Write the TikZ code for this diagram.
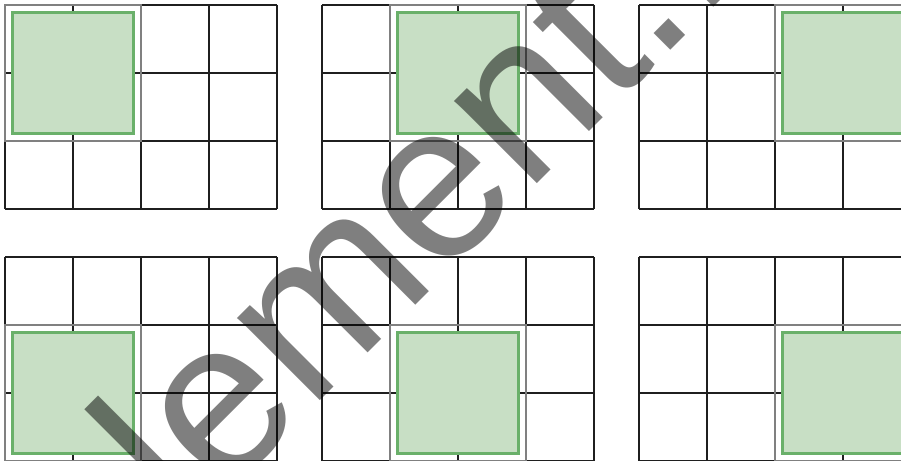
\documentclass[tikz,border=0pt]{standalone}
\usepackage{fontspec}
\newfontfamily\wmfont{Liberation Sans}
\definecolor{cellfill}{HTML}{C8DFC5}
\definecolor{cellline}{HTML}{6AB06A}
\definecolor{softline}{HTML}{808080}
\begin{document}
\begin{tikzpicture}[x=1pt,y=-1pt,
  gridline/.style={line width=1.1pt, black!88},
  blockline/.style={line width=1.1pt, softline},
  greenbox/.style={line width=3pt, draw=cellline, fill=cellfill},
  watermark/.style={anchor=base west, inner sep=0pt, outer sep=0pt, rotate=45,
    font=\wmfont\fontsize{221}{221}\selectfont, text=black, text opacity=0.5}]
\useasboundingbox (0,0) rectangle (901,460);
\clip (0,0) rectangle (901,460);
\fill[white] (0,0) rectangle (901,460);
\foreach \ox/\oy/\bc/\br in {5/5/0/0, 322/5/1/0, 639/5/2/0, 5/257/0/1, 322/257/1/1, 639/257/2/1} {
  \foreach \i in {0,...,4} {\draw[gridline] (\ox+\i*68,\oy) -- ++(0,204);}
  \foreach \j in {0,...,3} {\draw[gridline] (\ox,\oy+\j*68) -- ++(272,0);}
  \draw[blockline] (\ox+\bc*68,\oy+\br*68) rectangle ++(136,136);
  \draw[greenbox] (\ox+\bc*68+7.5,\oy+\br*68+7.5) rectangle ++(121,121);
}
\node (wm) [watermark] at (187.5,533.5) {lement..};
\end{tikzpicture}
\end{document}
